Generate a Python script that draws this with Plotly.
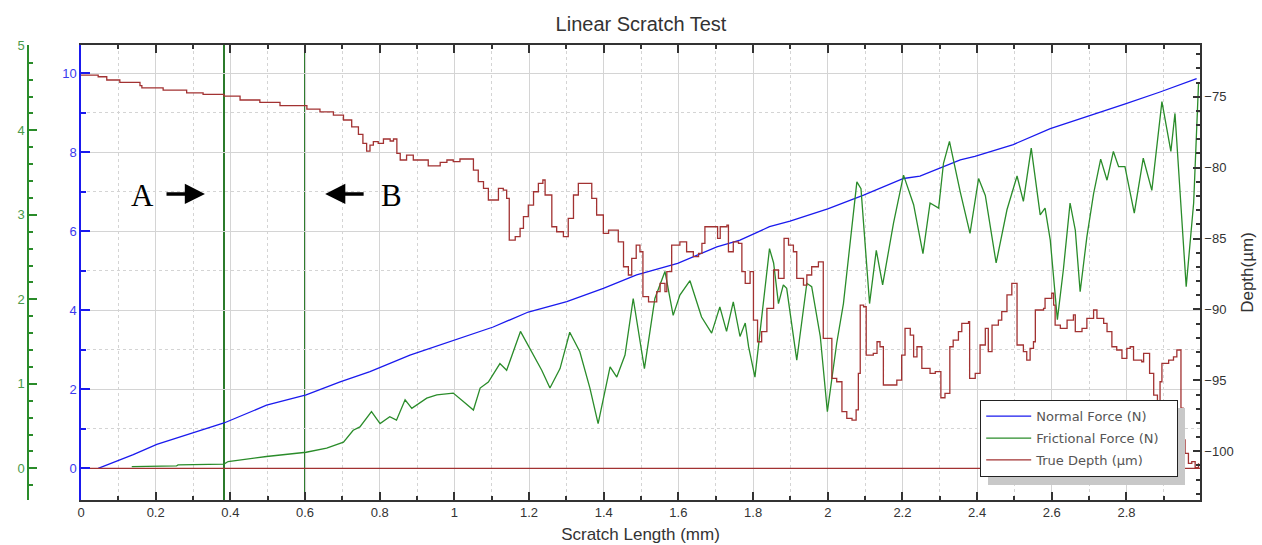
import plotly.graph_objects as go

# ---------------- data ----------------
x_range = [0.0, 2.997]

normal_x = [0.046, 0.140, 0.203, 0.265, 0.383, 0.497, 0.603, 0.694, 0.774, 0.881, 1.000,
            1.104, 1.198, 1.301, 1.399, 1.488, 1.598, 1.703, 1.765, 1.844, 1.899, 2.000, 2.096,
            2.203, 2.247, 2.355, 2.394, 2.497, 2.596, 2.694, 2.795, 2.890, 2.962, 2.988]
normal_y = [0.00, 0.35, 0.61, 0.80, 1.15, 1.60, 1.86, 2.19, 2.45, 2.87, 3.25,
            3.58, 3.96, 4.22, 4.56, 4.90, 5.19, 5.61, 5.78, 6.12, 6.26, 6.57, 6.92,
            7.34, 7.40, 7.81, 7.90, 8.20, 8.60, 8.90, 9.22, 9.53, 9.79, 9.87]

friction_x = [0.136, 0.256, 0.260, 0.383, 0.394, 0.497, 0.603, 0.658, 0.703, 0.729, 0.747,
              0.778, 0.801, 0.827, 0.845, 0.868, 0.886, 0.926, 0.953, 0.997, 1.024, 1.051,
              1.069, 1.091, 1.122, 1.140, 1.177, 1.211, 1.234, 1.256, 1.283, 1.309, 1.336,
              1.363, 1.385, 1.417, 1.435, 1.457, 1.479, 1.509, 1.537, 1.564, 1.586, 1.604,
              1.631, 1.662, 1.689, 1.711, 1.729, 1.747, 1.765, 1.779, 1.788, 1.805, 1.823,
              1.844, 1.855, 1.868, 1.881, 1.890, 1.917, 1.944, 1.957, 1.980, 1.999, 2.024,
              2.042, 2.060, 2.078, 2.089, 2.100, 2.112, 2.130, 2.147, 2.176, 2.203, 2.230,
              2.255, 2.274, 2.297, 2.310, 2.326, 2.355, 2.381, 2.404, 2.422, 2.451, 2.480,
              2.507, 2.524, 2.545, 2.569, 2.582, 2.596, 2.615, 2.631, 2.649, 2.663, 2.676,
              2.694, 2.712, 2.731, 2.748, 2.765, 2.779, 2.796, 2.821, 2.845, 2.868, 2.895,
              2.919, 2.930, 2.960, 2.980, 2.993]
friction_y = [0.02, 0.03, 0.04, 0.05, 0.08, 0.14, 0.19, 0.24, 0.31, 0.45, 0.49,
              0.67, 0.53, 0.61, 0.57, 0.81, 0.71, 0.83, 0.87, 0.89, 0.79, 0.69,
              0.95, 1.02, 1.24, 1.16, 1.62, 1.34, 1.16, 0.95, 1.18, 1.61, 1.38,
              0.95, 0.53, 1.20, 1.08, 1.34, 2.01, 1.18, 2.01, 2.33, 1.81, 2.05,
              2.22, 1.79, 1.60, 1.91, 1.62, 1.97, 1.56, 1.72, 1.44, 1.08, 1.79,
              2.60, 2.43, 1.95, 2.17, 2.13, 1.28, 2.19, 2.15, 1.56, 0.67, 1.48,
              1.95, 2.70, 3.39, 3.31, 2.70, 1.95, 2.58, 2.17, 2.90, 3.47, 3.12,
              2.54, 3.14, 3.08, 3.61, 3.87, 3.27, 2.78, 3.43, 3.23, 2.43, 3.06,
              3.46, 3.16, 3.79, 3.00, 3.08, 2.70, 1.76, 2.35, 3.14, 2.82, 2.09,
              2.74, 3.25, 3.66, 3.41, 3.75, 3.57, 3.57, 3.02, 3.67, 3.29, 4.34,
              3.75, 4.20, 2.15, 3.14, 4.55]

depth_x = [0.000, 0.046, 0.069, 0.104, 0.158, 0.163, 0.220, 0.283, 0.327, 0.383, 0.426,
           0.479, 0.533, 0.605, 0.640, 0.676, 0.703, 0.725, 0.743, 0.755, 0.765, 0.774,
           0.783, 0.796, 0.810, 0.828, 0.837, 0.846, 0.855, 0.872, 0.890, 0.930, 0.962,
           0.980, 0.997, 1.015, 1.042, 1.051, 1.064, 1.078, 1.091, 1.114, 1.118, 1.131,
           1.140, 1.147, 1.163, 1.176, 1.185, 1.198, 1.212, 1.225, 1.237, 1.243, 1.261,
           1.274, 1.292, 1.305, 1.319, 1.332, 1.355, 1.368, 1.381, 1.399, 1.413, 1.430,
           1.439, 1.453, 1.466, 1.475, 1.487, 1.497, 1.505, 1.520, 1.542, 1.551, 1.564,
           1.569, 1.582, 1.604, 1.622, 1.640, 1.654, 1.663, 1.671, 1.698, 1.705, 1.712,
           1.730, 1.734, 1.747, 1.761, 1.770, 1.779, 1.792, 1.801, 1.812, 1.823, 1.837,
           1.855, 1.868, 1.883, 1.895, 1.908, 1.917, 1.935, 1.944, 1.957, 1.975, 1.987,
           1.988, 2.011, 2.024, 2.038, 2.051, 2.065, 2.076, 2.082, 2.087, 2.096, 2.103,
           2.122, 2.132, 2.140, 2.149, 2.176, 2.185, 2.198, 2.207, 2.221, 2.230, 2.239,
           2.252, 2.274, 2.288, 2.303, 2.314, 2.327, 2.336, 2.350, 2.359, 2.377, 2.380,
           2.395, 2.408, 2.422, 2.430, 2.440, 2.457, 2.466, 2.480, 2.493, 2.502, 2.507,
           2.524, 2.533, 2.542, 2.551, 2.556, 2.578, 2.582, 2.600, 2.605, 2.609, 2.623,
           2.641, 2.658, 2.663, 2.681, 2.694, 2.712, 2.721, 2.739, 2.748, 2.761, 2.774,
           2.788, 2.801, 2.810, 2.819, 2.841, 2.846, 2.855, 2.862, 2.873, 2.883, 2.890,
           2.895, 2.913, 2.926, 2.935, 2.944, 2.946, 2.952, 2.957, 2.966, 2.975, 2.984,
           2.993]
depth_y = [-73.47, -73.59, -73.82, -73.98, -74.22, -74.37, -74.53, -74.72, -74.83, -74.95, -75.23,
           -75.39, -75.63, -75.87, -76.06, -76.29, -76.64, -77.12, -77.65, -78.29, -78.83, -78.41,
           -78.17, -78.29, -77.98, -78.12, -77.98, -78.99, -79.46, -79.11, -79.46, -79.87, -79.63,
           -79.46, -79.58, -79.39, -79.39, -80.17, -80.99, -81.46, -82.28, -82.28, -81.46, -81.58,
           -82.17, -85.11, -84.87, -84.28, -83.46, -82.64, -81.70, -81.11, -80.87, -81.93, -84.17,
           -84.52, -84.87, -83.58, -81.93, -81.11, -81.11, -82.17, -83.34, -84.63, -84.40, -84.40,
           -85.23, -86.99, -87.57, -86.40, -85.46, -85.93, -89.10, -89.46, -88.75, -88.16, -88.75,
           -87.34, -85.46, -85.23, -85.93, -86.28, -86.04, -85.34, -84.17, -84.17, -84.99, -84.17,
           -84.05, -85.93, -85.23, -85.34, -87.34, -88.16, -87.34, -90.75, -92.28, -91.57, -89.92,
           -87.22, -87.81, -84.99, -85.46, -85.93, -87.81, -88.28, -87.57, -86.99, -86.64, -86.64,
           -92.04, -94.86, -95.10, -97.21, -97.68, -97.80, -97.09, -94.51, -89.69, -89.81, -93.22,
           -93.10, -92.28, -92.63, -95.33, -95.33, -94.98, -93.22, -91.33, -91.81, -93.34, -92.63,
           -94.15, -94.51, -94.39, -96.23, -95.92, -92.63, -92.16, -91.57, -90.98, -90.87, -94.86,
           -94.51, -92.51, -91.33, -92.98, -91.10, -90.75, -90.16, -88.98, -88.16, -88.16, -92.51,
           -92.98, -93.57, -92.74, -92.28, -90.04, -89.92, -89.22, -88.86, -89.69, -91.10, -91.33,
           -90.75, -90.39, -91.57, -91.33, -90.63, -90.04, -90.63, -90.98, -91.57, -92.63, -92.86,
           -93.45, -92.74, -92.63, -93.57, -93.69, -93.10, -93.10, -94.51, -96.04, -96.74, -95.10,
           -93.80, -93.57, -93.34, -92.86, -92.86, -96.97, -99.21, -100.15, -100.85, -100.74, -101.16,
           -100.85]

baseline_x = [0.0, 2.997]
baseline_y = [0.0, 0.0]

marker_x = [0.383, 0.600]          # lines A and B
label_text = ["A", "B"]
label_x = [0.166, 0.832]
label_y = [6.92, 6.92]
arrow_tail_x = [0.225, 0.761]
arrow_tip_x = [0.332, 0.654]
arrow_y = [6.95, 6.95]

series_names = ["Normal Force (N)", "Frictional Force (N)", "True Depth (µm)"]

# ---------------- style ----------------
BLUE = "#1a1aee"
GREEN = "#2a8c2a"
RED = "#a23232"
GRID = "#d4d4d4"
FONT = "Liberation Sans"
PAD = "\u00a0\u00a0\u00a0"   # widens the legend box like the original

W, H = 1262, 545
ML, MR, MT, MB = 10, 62, 45, 45
PW = W - ML - MR
PH = H - MT - MB
def px_x(p):
    return (p - ML) / PW
def px_y(p):
    return 1 - (p - MT) / PH

fig = go.Figure()
fig.add_trace(go.Scatter(x=normal_x, y=normal_y, mode="lines", name=series_names[0],
                         line=dict(color=BLUE, width=1.3), yaxis="y", legendgroup="a"))
fig.add_trace(go.Scatter(x=baseline_x, y=baseline_y, mode="lines", showlegend=False,
                         line=dict(color=RED, width=1.3), yaxis="y", hoverinfo="skip"))
fig.add_trace(go.Scatter(x=friction_x, y=friction_y, mode="lines", name=series_names[1] + PAD,
                         line=dict(color=GREEN, width=1.3), yaxis="y2", legendgroup="b"))
fig.add_trace(go.Scatter(x=depth_x, y=depth_y, mode="lines", name=series_names[2],
                         line=dict(color=RED, width=1.3, shape="hv"), yaxis="y3", legendgroup="c"))

shapes = []
for mx in marker_x:
    shapes.append(dict(type="line", xref="x", yref="y domain", x0=mx, x1=mx, y0=0, y1=1,
                       line=dict(color="#2b7a2b", width=2), layer="below"))
# legend shadow
shapes.append(dict(type="rect", xref="paper", yref="paper",
                   x0=px_x(988), x1=px_x(1185), y0=px_y(485), y1=px_y(408),
                   fillcolor="#c8c8c8", line=dict(width=0), layer="above"))

annotations = []
for t, lx, ly in zip(label_text, label_x, label_y):
    annotations.append(dict(x=lx, y=ly, xref="x", yref="y", text=t, showarrow=False,
                            font=dict(family="Liberation Serif", size=31, color="black")))
for tx, hx, ay in zip(arrow_tail_x, arrow_tip_x, arrow_y):
    annotations.append(dict(x=hx, y=ay, xref="x", yref="y", ax=tx, ay=ay, axref="x", ayref="y",
                            text="", showarrow=True, arrowhead=2, arrowsize=1.15, arrowwidth=3.5,
                            arrowcolor="black"))

fig.update_layout(
    width=W, height=H,
    margin=dict(l=ML, r=MR, t=MT, b=MB, autoexpand=False),
    paper_bgcolor="white", plot_bgcolor="white",
    font=dict(family=FONT, size=13, color="#333333"),
    title=dict(text="Linear Scratch Test", x=641 / W, xref="container", xanchor="center",
               y=1 - 24 / H, yref="container", yanchor="middle",
               font=dict(family=FONT, size=20, color="#333333")),
    xaxis=dict(domain=[px_x(81), 1.0], range=x_range, dtick=0.2, tick0=0, automargin=False,
               showgrid=True, gridcolor=GRID, gridwidth=1,
               minor=dict(dtick=0.1, showgrid=True, gridcolor=GRID, griddash="dot",
                          ticks="inside", ticklen=4, tickcolor="#333333"),
               ticks="inside", ticklen=8, tickcolor="#333333", tickwidth=1.5,
               showline=True, linecolor="#333333", linewidth=1.5, mirror="ticks",
               zeroline=False,
               tickfont=dict(family=FONT, size=13, color="#333333"),
               title=dict(text="Scratch Length (mm)", standoff=9,
                          font=dict(family=FONT, size=17, color="#333333"))),
    yaxis=dict(range=[-0.80, 10.72], dtick=2, tick0=0, automargin=False,
               showgrid=True, gridcolor=GRID, gridwidth=1,
               minor=dict(dtick=1, showgrid=True, gridcolor=GRID, griddash="dot",
                          ticks="inside", ticklen=5, tickcolor=BLUE),
               ticks="inside", ticklen=9, tickcolor=BLUE, tickwidth=1.5,
               showline=True, linecolor=BLUE, linewidth=1.5, zeroline=False,
               tickfont=dict(family=FONT, size=13, color="#3a3aee")),
    yaxis2=dict(range=[-0.375, 5.01], dtick=1, tick0=0, overlaying="y", anchor="free",
                position=px_x(28), side="left", showgrid=False, zeroline=False, automargin=False,
                minor=dict(dtick=0.2, ticks="inside", ticklen=4, tickcolor=GREEN),
                ticks="inside", ticklen=8, tickcolor=GREEN, tickwidth=1.5,
                showline=True, linecolor=GREEN, linewidth=1.5,
                tickfont=dict(family=FONT, size=13, color="#4a9a4a")),
    yaxis3=dict(range=[-103.44, -71.35], dtick=5, tick0=-100, overlaying="y", anchor="x",
                side="right", showgrid=False, zeroline=False, automargin=False,
                minor=dict(dtick=1, ticks="inside", ticklen=4, tickcolor="#333333"),
                ticks="inside", ticklen=7, tickcolor="#333333", tickwidth=1.5,
                showline=True, linecolor="#333333", linewidth=1.5,
                tickfont=dict(family=FONT, size=13, color="#333333"),
                title=dict(text="Depth(µm)", standoff=8,
                           font=dict(family=FONT, size=17, color="#333333"))),
    legend=dict(x=px_x(980), y=px_y(400), xanchor="left", yanchor="top",
                bgcolor="white", bordercolor="#222222", borderwidth=1.2,
                font=dict(family="DejaVu Sans", size=13, color="#555555"),
                itemwidth=45, tracegroupgap=2),
    shapes=shapes,
    annotations=annotations,
    showlegend=True,
)

fig.write_html("out.html")
